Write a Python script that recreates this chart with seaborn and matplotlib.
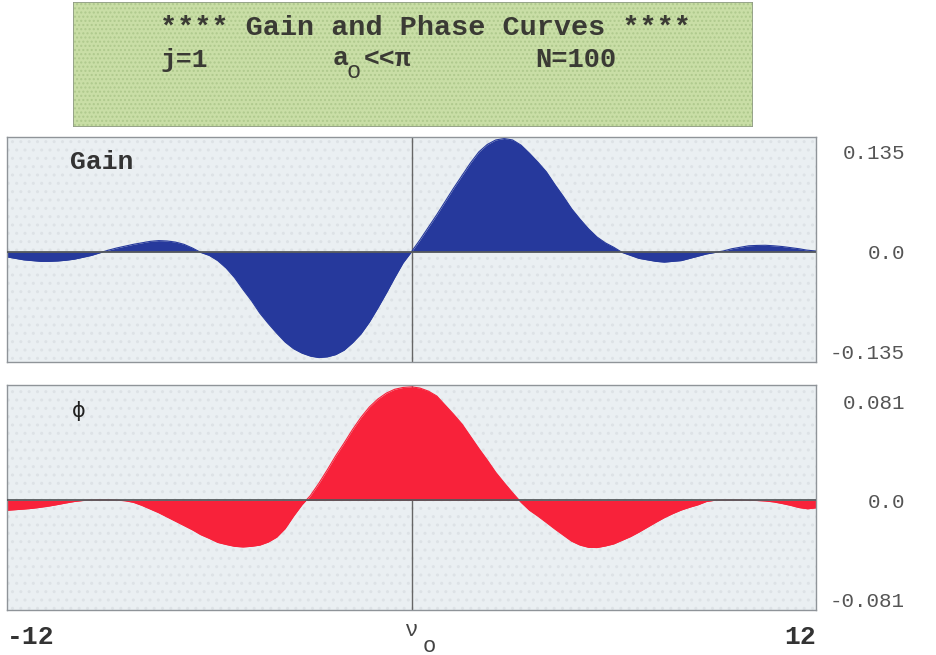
import numpy as np
import pandas as pd
import matplotlib
matplotlib.use("Agg")
import matplotlib.pyplot as plt
import seaborn as sns
from matplotlib.patches import Rectangle

# frequency offset from nu_o
nu = [-12.00, -11.75, -11.50, -11.25, -11.00, -10.75, -10.50, -10.25,
      -10.00, -9.75, -9.50, -9.25, -9.00, -8.75, -8.50, -8.25,
      -8.00, -7.75, -7.50, -7.25, -7.00, -6.75, -6.50, -6.25,
      -6.00, -5.75, -5.50, -5.25, -5.00, -4.75, -4.50, -4.25,
      -4.00, -3.75, -3.50, -3.25, -3.00, -2.75, -2.50, -2.25,
      -2.00, -1.75, -1.50, -1.25, -1.00, -0.75, -0.50, -0.25,
      0.00, 0.25, 0.50, 0.75, 1.00, 1.25, 1.50, 1.75,
      2.00, 2.25, 2.50, 2.75, 3.00, 3.25, 3.50, 3.75,
      4.00, 4.25, 4.50, 4.75, 5.00, 5.25, 5.50, 5.75,
      6.00, 6.25, 6.50, 6.75, 7.00, 7.25, 7.50, 7.75,
      8.00, 8.25, 8.50, 8.75, 9.00, 9.25, 9.50, 9.75,
      10.00, 10.25, 10.50, 10.75, 11.00, 11.25, 11.50, 11.75, 12.00]

gain = [-0.007, -0.009, -0.011, -0.012, -0.013, -0.013, -0.0125, -0.0115,
        -0.010, -0.0075, -0.005, -0.0015, 0.002, 0.005, 0.0075, 0.010,
        0.012, 0.014, 0.015, 0.0145, 0.013, 0.010, 0.005, -0.001,
        -0.005, -0.012, -0.022, -0.035, -0.051, -0.066, -0.083, -0.097,
        -0.110, -0.122, -0.131, -0.137, -0.141, -0.143, -0.142, -0.139,
        -0.133, -0.123, -0.111, -0.095, -0.076, -0.056, -0.035, -0.015,
        0.000, 0.016, 0.033, 0.050, 0.068, 0.086, 0.103, 0.120,
        0.135, 0.145, 0.151, 0.153, 0.151, 0.144, 0.133, 0.121,
        0.108, 0.091, 0.075, 0.058, 0.044, 0.031, 0.020, 0.012,
        0.006, -0.001, -0.005, -0.009, -0.011, -0.013, -0.014, -0.013,
        -0.012, -0.009, -0.006, -0.003, -0.001, 0.001, 0.004, 0.006,
        0.008, 0.0085, 0.0087, 0.008, 0.007, 0.0055, 0.004, 0.002, 0.001]

phase = [-0.008, -0.0075, -0.007, -0.0064, -0.0055, -0.0045, -0.0033, -0.002,
         -0.0008, 0.0, 0.0004, 0.0006, 0.0006, 0.0003, -0.0002, -0.0015,
         -0.004, -0.007, -0.010, -0.0135, -0.017, -0.0205, -0.024, -0.028,
         -0.031, -0.0343, -0.036, -0.0375, -0.038, -0.0375, -0.0365, -0.034,
         -0.030, -0.023, -0.0128, -0.0035, 0.004, 0.014, 0.025, 0.0365,
         0.047, 0.058, 0.068, 0.0765, 0.083, 0.0878, 0.091, 0.0925,
         0.093, 0.092, 0.0895, 0.0855, 0.078, 0.0705, 0.0625, 0.0525,
         0.0425, 0.033, 0.023, 0.0145, 0.0063, -0.0015, -0.008, -0.0128,
         -0.018, -0.0233, -0.0283, -0.0333, -0.0365, -0.0383, -0.0385, -0.0372,
         -0.0355, -0.0325, -0.0295, -0.0258, -0.0218, -0.0178, -0.014, -0.0107,
         -0.0078, -0.0055, -0.0035, -0.0008, 0.0002, 0.0004, 0.0004, 0.0003,
         0.0001, 0.0, -0.0004, -0.0012, -0.0025, -0.004, -0.0058, -0.0068, -0.006]

gain_ticks = [-0.135, 0.0, 0.135]
gain_ticklabels = ["-0.135", "0.0", "0.135"]
phase_ticks = [-0.081, 0.0, 0.081]
phase_ticklabels = ["-0.081", "0.0", "0.081"]
x_ticks = [-12, 12]
x_ticklabels = ["-12", "12"]

df = pd.DataFrame({"nu": nu, "gain": gain, "phase": phase})

sns.set_theme(style="white")
plt.rcParams["font.family"] = ["Liberation Mono", "DejaVu Sans"]

W, H = 936, 655
fig = plt.figure(figsize=(W / 100, H / 100), dpi=100)
fig.patch.set_facecolor("white")

PANEL_BG = "#eaeff2"
BLUE = "#26399c"
RED = "#f8223a"


def px_axes(x0, y0, x1, y1):
    return fig.add_axes([x0 / W, 1 - y1 / H, (x1 - x0) / W, (y1 - y0) / H])


def style_panel(ax, ylim, ticks, ticklabels):
    ax.set_facecolor(PANEL_BG)
    ax.add_patch(Rectangle((0, 0), 1, 1, transform=ax.transAxes,
                           facecolor="none", edgecolor="#dde2e6",
                           hatch="..", lw=0, zorder=0.5))
    ax.set_xlim(-12, 12)
    ax.set_ylim(*ylim)
    for s in ax.spines.values():
        s.set_color("#8f9499")
        s.set_linewidth(1.0)
        s.set_visible(True)
    ax.yaxis.tick_right()
    ax.set_yticks(ticks)
    ax.set_yticklabels(ticklabels)
    ax.tick_params(axis="y", length=0, pad=64, labelsize=15,
                   labelcolor="#555555")
    for lab in ax.get_yticklabels():
        lab.set_horizontalalignment("right")
    ax.set_xlabel("")
    ax.set_ylabel("")
    ax.axvline(0, color="#666666", lw=1.0, zorder=1)


# ---- title box ----
tax = px_axes(73, 2, 753, 127)
tax.set_xlim(0, 1)
tax.set_ylim(0, 1)
tax.axis("off")
tax.add_patch(Rectangle((0, 0), 1, 1, facecolor="#c9dea6", edgecolor="none"))
tax.add_patch(Rectangle((0, 0), 1, 1, facecolor="none", edgecolor="#afc98d",
                        hatch="....", lw=0))
tax.add_patch(Rectangle((0, 0), 1, 1, facecolor="none", edgecolor="#8f9a86",
                        lw=1.2))
TXT = "#3a3a34"
fig.text(425 / W, 1 - 28 / H, "**** Gain and Phase Curves ****",
         ha="center", va="center", fontsize=20.5, fontweight="bold", color=TXT)
fig.text(160 / W, 1 - 60 / H, "j=1", ha="left", va="center",
         fontsize=19, fontweight="bold", color=TXT)
fig.text(333 / W, 1 - 58 / H, "a", ha="left", va="center",
         fontsize=19, fontweight="bold", color=TXT)
fig.text(347 / W, 1 - 72 / H, "o", ha="left", va="center",
         fontsize=17, color=TXT)
fig.text(364 / W, 1 - 59 / H, "<<\u03c0", ha="left", va="center",
         fontsize=19, fontweight="bold", color=TXT)
fig.text(535 / W, 1 - 60 / H, "N=100", ha="left", va="center",
         fontsize=19.5, fontweight="bold", color=TXT)

# ---- gain panel ----
ax1 = px_axes(7, 137, 816, 362)
style_panel(ax1, (-0.149, 0.155), gain_ticks, gain_ticklabels)
ax1.fill_between(df["nu"], 0, df["gain"], color=BLUE, lw=0, zorder=2)
sns.lineplot(data=df, x="nu", y="gain", ax=ax1, color=BLUE, lw=0.8, zorder=2)
ax1.axhline(0, color="#55595c", lw=1.3, zorder=3)
ax1.set_xticks([])
ax1.set_xlabel("")
ax1.set_ylabel("")
ax1.text(63 / 809, 1 - 25 / 225, "Gain", transform=ax1.transAxes,
         ha="left", va="center", fontsize=19, fontweight="bold",
         color="#333333")

# ---- phase panel ----
ax2 = px_axes(7, 385, 816, 610)
style_panel(ax2, (-0.0896, 0.0945), phase_ticks, phase_ticklabels)
ax2.fill_between(df["nu"], 0, df["phase"], color=RED, lw=0, zorder=2)
sns.lineplot(data=df, x="nu", y="phase", ax=ax2, color=RED, lw=0.8, zorder=2)
ax2.axhline(0, color="#55595c", lw=1.3, zorder=3)
ax2.set_xlabel("")
ax2.set_ylabel("")
ax2.text(65 / 809, 1 - 26 / 225, "\u03d5", transform=ax2.transAxes,
         ha="left", va="center", fontsize=15, color="#222222",
         family=["DejaVu Sans"])
ax2.set_xticks(x_ticks)
ax2.set_xticklabels(x_ticklabels)
ax2.tick_params(axis="x", length=0, pad=11, labelsize=19,
                labelcolor="#333333")
for lab, ha in zip(ax2.get_xticklabels(), ["left", "right"]):
    lab.set_horizontalalignment(ha)
    lab.set_fontweight("bold")
ax2.annotate("\u03bd", xy=(0.0, -0.0896), xycoords="data", xytext=(0, -21),
             textcoords="offset pixels", ha="center", va="center",
             fontsize=16, color="#444444")
ax2.annotate("o", xy=(0.0, -0.0896), xycoords="data", xytext=(18, -36),
             textcoords="offset pixels", ha="center", va="center",
             fontsize=16, color="#444444")

fig.savefig("out.png", dpi=100, facecolor="white")
